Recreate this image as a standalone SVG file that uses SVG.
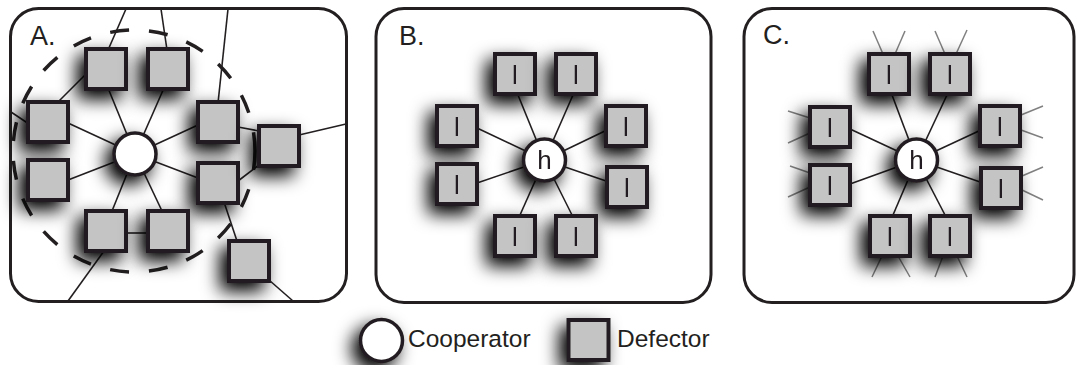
<svg xmlns="http://www.w3.org/2000/svg" width="1079" height="365" viewBox="0 0 1079 365">
  <style>
    .frame { fill: #ffffff; stroke: #231f20; stroke-width: 3; }
    .def { fill: #c4c4c4; stroke: #231f20; stroke-width: 4; }
    .coop { fill: #ffffff; stroke: #231f20; stroke-width: 3.5; }
    .edge { stroke: #231f20; stroke-width: 1.6; fill: none; }
    .whisk { stroke: #808080; stroke-width: 1.5; fill: none; }
    .ring { fill: none; stroke: #231f20; stroke-width: 3.5; stroke-dasharray: 19 20; }
    .lab { font-family: "Liberation Sans", Arial, sans-serif; font-size: 27px; fill: #231f20; }
    .sym { font-family: "Liberation Sans", Arial, sans-serif; font-size: 26px; fill: #231f20; text-anchor: middle; }
    .leg { font-family: "Liberation Sans", Arial, sans-serif; font-size: 24.5px; fill: #231f20; }
  </style>
  <defs>
    <filter id="shadow" x="-100%" y="-100%" width="300%" height="300%">
      <feGaussianBlur in="SourceAlpha" stdDeviation="9"/>
      <feOffset dx="-7" dy="8" result="off"/>
      <feComponentTransfer>
        <feFuncA type="linear" slope="1.05"/>
      </feComponentTransfer>
      <feMerge>
        <feMergeNode/>
        <feMergeNode in="SourceGraphic"/>
      </feMerge>
    </filter>
    <rect id="sq" x="-20" y="-20" width="40" height="40" class="def"/>
    <circle id="ci" cx="0" cy="0" r="21" class="coop"/>
  </defs>

  <!-- panel frames -->
  <g id="frames">
    <rect class="frame" x="10.5" y="8.5" width="336" height="293" rx="28"/>
    <rect class="frame" x="376" y="8.5" width="335" height="294" rx="28"/>
    <rect class="frame" x="744" y="8.5" width="330" height="294" rx="28"/>
  </g>

  <!-- panel labels -->
  <text class="lab" x="30" y="45">A.</text>
  <text class="lab" x="399" y="45">B.</text>
  <text class="lab" x="763" y="44">C.</text>

  <!-- connectors -->
  <g id="connectors">
    <!-- panel A: hub links -->
    <line class="edge" x1="135" y1="154" x2="108" y2="88"/>
    <line class="edge" x1="135" y1="154" x2="164" y2="88"/>
    <line class="edge" x1="135" y1="154" x2="68" y2="123"/>
    <line class="edge" x1="135" y1="154" x2="68" y2="180"/>
    <line class="edge" x1="135" y1="154" x2="198" y2="125"/>
    <line class="edge" x1="135" y1="154" x2="198" y2="178"/>
    <line class="edge" x1="135" y1="154" x2="112" y2="211"/>
    <line class="edge" x1="135" y1="154" x2="162" y2="211"/>
    <!-- panel A: outer links -->
    <line class="edge" x1="108" y1="50" x2="126" y2="9"/>
    <line class="edge" x1="167" y1="50" x2="161" y2="9"/>
    <line class="edge" x1="218" y1="103" x2="228" y2="9"/>
    <line class="edge" x1="85" y1="75" x2="57" y2="103"/>
    <line class="edge" x1="11" y1="112" x2="29" y2="124"/>
    <line class="edge" x1="238" y1="127" x2="259" y2="131"/>
    <line class="edge" x1="299" y1="135" x2="346" y2="124"/>
    <line class="edge" x1="238" y1="181" x2="259" y2="165"/>
    <line class="edge" x1="224" y1="202" x2="237" y2="241"/>
    <line class="edge" x1="269" y1="280" x2="293" y2="301"/>
    <line class="edge" x1="126" y1="233" x2="148" y2="233"/>
    <line class="edge" x1="104" y1="251" x2="68" y2="301"/>

    <!-- panel B: hub links -->
    <line class="edge" x1="544.5" y1="160" x2="518" y2="95"/>
    <line class="edge" x1="544.5" y1="160" x2="573" y2="95"/>
    <line class="edge" x1="544.5" y1="160" x2="477" y2="128"/>
    <line class="edge" x1="544.5" y1="160" x2="477" y2="183"/>
    <line class="edge" x1="544.5" y1="160" x2="607" y2="130"/>
    <line class="edge" x1="544.5" y1="160" x2="609" y2="182"/>
    <line class="edge" x1="544.5" y1="160" x2="520" y2="215"/>
    <line class="edge" x1="544.5" y1="160" x2="572" y2="215"/>

    <!-- panel C: hub links -->
    <line class="edge" x1="916.5" y1="160" x2="892" y2="95"/>
    <line class="edge" x1="916.5" y1="160" x2="947" y2="95"/>
    <line class="edge" x1="916.5" y1="160" x2="850" y2="129"/>
    <line class="edge" x1="916.5" y1="160" x2="850" y2="184"/>
    <line class="edge" x1="916.5" y1="160" x2="981" y2="130"/>
    <line class="edge" x1="916.5" y1="160" x2="983" y2="183"/>
    <line class="edge" x1="916.5" y1="160" x2="893" y2="215"/>
    <line class="edge" x1="916.5" y1="160" x2="945" y2="215"/>

    <!-- panel C: links leaving each defector -->
    <line class="whisk" x1="883" y1="54" x2="873" y2="31"/>
    <line class="whisk" x1="895" y1="54" x2="905" y2="31"/>
    <line class="whisk" x1="945" y1="54" x2="935" y2="31"/>
    <line class="whisk" x1="956" y1="54" x2="967" y2="30"/>
    <line class="whisk" x1="810" y1="118" x2="788" y2="111"/>
    <line class="whisk" x1="810" y1="133" x2="788" y2="143"/>
    <line class="whisk" x1="810" y1="173" x2="790" y2="166"/>
    <line class="whisk" x1="810" y1="187" x2="788" y2="197"/>
    <line class="whisk" x1="1021" y1="115" x2="1043" y2="106"/>
    <line class="whisk" x1="1021" y1="130" x2="1043" y2="138"/>
    <line class="whisk" x1="1022" y1="176" x2="1043" y2="167"/>
    <line class="whisk" x1="1022" y1="190" x2="1043" y2="200"/>
    <line class="whisk" x1="882" y1="256" x2="872" y2="277"/>
    <line class="whisk" x1="898" y1="256" x2="910" y2="277"/>
    <line class="whisk" x1="943" y1="256" x2="935" y2="277"/>
    <line class="whisk" x1="957" y1="256" x2="967" y2="277"/>
  </g>

  <!-- panel A: neighbourhood boundary -->
  <circle class="ring" cx="134" cy="151" r="121"/>

  <!-- panel A nodes -->
  <g id="A-hub" filter="url(#shadow)"><use href="#ci" x="135" y="154"/></g>
  <g id="A-d1" filter="url(#shadow)"><use href="#sq" x="106" y="69"/></g>
  <g id="A-d2" filter="url(#shadow)"><use href="#sq" x="168" y="69"/></g>
  <g id="A-d3" filter="url(#shadow)"><use href="#sq" x="48" y="122"/></g>
  <g id="A-d4" filter="url(#shadow)"><use href="#sq" x="48" y="180"/></g>
  <g id="A-d5" filter="url(#shadow)"><use href="#sq" x="218" y="122"/></g>
  <g id="A-d6" filter="url(#shadow)"><use href="#sq" x="218" y="183"/></g>
  <g id="A-d7" filter="url(#shadow)"><use href="#sq" x="106" y="231"/></g>
  <g id="A-d8" filter="url(#shadow)"><use href="#sq" x="168" y="231"/></g>
  <g id="A-d9" filter="url(#shadow)"><use href="#sq" x="279" y="146"/></g>
  <g id="A-d10" filter="url(#shadow)"><use href="#sq" x="249" y="261"/></g>

  <!-- panel B nodes -->
  <g id="B-hub" filter="url(#shadow)"><use href="#ci" x="544.5" y="160"/><text class="sym" x="544.5" y="169">h</text></g>
  <g id="B-d1" filter="url(#shadow)"><use href="#sq" x="515" y="74"/><text class="sym" x="515" y="84">l</text></g>
  <g id="B-d2" filter="url(#shadow)"><use href="#sq" x="576" y="74"/><text class="sym" x="576" y="84">l</text></g>
  <g id="B-d3" filter="url(#shadow)"><use href="#sq" x="457" y="126"/><text class="sym" x="457" y="136">l</text></g>
  <g id="B-d4" filter="url(#shadow)"><use href="#sq" x="457" y="184"/><text class="sym" x="457" y="194">l</text></g>
  <g id="B-d5" filter="url(#shadow)"><use href="#sq" x="626" y="126"/><text class="sym" x="626" y="136">l</text></g>
  <g id="B-d6" filter="url(#shadow)"><use href="#sq" x="627" y="187"/><text class="sym" x="627" y="197">l</text></g>
  <g id="B-d7" filter="url(#shadow)"><use href="#sq" x="515" y="236"/><text class="sym" x="515" y="246">l</text></g>
  <g id="B-d8" filter="url(#shadow)"><use href="#sq" x="576" y="236"/><text class="sym" x="576" y="246">l</text></g>

  <!-- panel C nodes -->
  <g id="C-hub" filter="url(#shadow)"><use href="#ci" x="916.5" y="160"/><text class="sym" x="916.5" y="169">h</text></g>
  <g id="C-d1" filter="url(#shadow)"><use href="#sq" x="889" y="74"/><text class="sym" x="889" y="84">l</text></g>
  <g id="C-d2" filter="url(#shadow)"><use href="#sq" x="950" y="74"/><text class="sym" x="950" y="84">l</text></g>
  <g id="C-d3" filter="url(#shadow)"><use href="#sq" x="830" y="127"/><text class="sym" x="830" y="137">l</text></g>
  <g id="C-d4" filter="url(#shadow)"><use href="#sq" x="830" y="185"/><text class="sym" x="830" y="195">l</text></g>
  <g id="C-d5" filter="url(#shadow)"><use href="#sq" x="1000" y="126"/><text class="sym" x="1000" y="136">l</text></g>
  <g id="C-d6" filter="url(#shadow)"><use href="#sq" x="1001" y="188"/><text class="sym" x="1001" y="198">l</text></g>
  <g id="C-d7" filter="url(#shadow)"><use href="#sq" x="890" y="236"/><text class="sym" x="890" y="246">l</text></g>
  <g id="C-d8" filter="url(#shadow)"><use href="#sq" x="950" y="236"/><text class="sym" x="950" y="246">l</text></g>

  <!-- legend -->
  <g id="legend-coop">
    <g filter="url(#shadow)"><use href="#ci" x="381.5" y="340.5"/></g>
    <text class="leg" x="408" y="347">Cooperator</text>
  </g>
  <g id="legend-def">
    <g filter="url(#shadow)"><use href="#sq" x="588.5" y="340"/></g>
    <text class="leg" x="617" y="347">Defector</text>
  </g>
</svg>
